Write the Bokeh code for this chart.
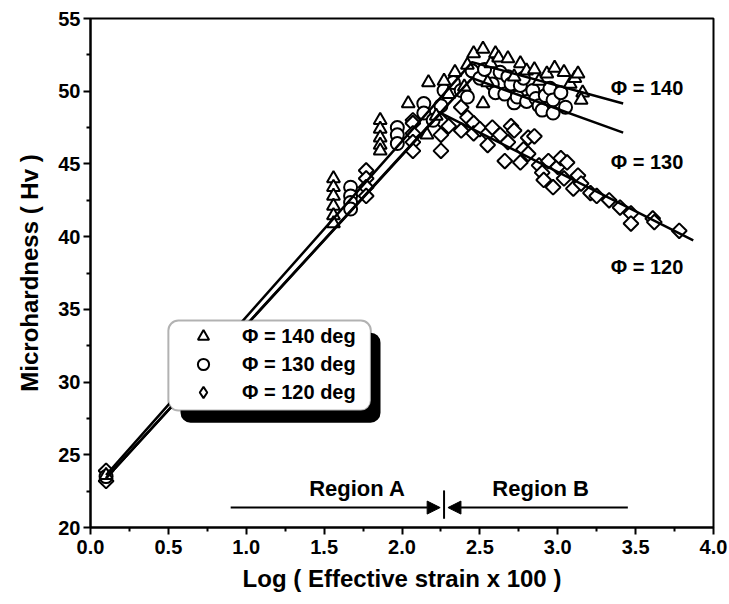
from bokeh.plotting import figure
from bokeh.models import (Legend, LegendItem, BoxAnnotation, Label, Arrow, NormalHead,
                          Range1d, FixedTicker, NumeralTickFormatter, CDSView, IndexFilter,
                          ColumnDataSource)
from bokeh.embed import file_html
from bokeh.resources import INLINE
import numpy as np

# ---------------- data ----------------
x_ticks = [0.0, 0.5, 1.0, 1.5, 2.0, 2.5, 3.0, 3.5, 4.0]
x_minor = [0.25, 0.75, 1.25, 1.75, 2.25, 2.75, 3.25, 3.75]
y_ticks = [20, 25, 30, 35, 40, 45, 50, 55]
y_minor = [22.5, 27.5, 32.5, 37.5, 42.5, 47.5, 52.5]

# Phi = 140 deg (triangles)
x140 = [0.10, 1.56, 1.56, 1.56, 1.56, 1.56, 1.56, 1.86, 1.86, 1.86, 1.86, 1.86,
        2.04, 2.16, 2.17, 2.22, 2.27, 2.30, 2.34, 2.40, 2.42, 2.46, 2.52, 2.52,
        2.55, 2.57, 2.60, 2.62, 2.68, 2.72, 2.76, 2.80, 2.85, 2.88, 2.93, 2.98,
        3.04, 3.08, 3.11, 3.13, 3.16, 3.15]
y140 = [23.6, 44.0, 43.4, 42.8, 42.1, 41.45, 40.9, 48.0, 47.4, 46.8, 46.3, 45.9,
        49.15, 47.0, 50.6, 48.3, 50.7, 49.8, 51.3, 50.3, 51.8, 52.6, 52.9, 49.15,
        50.6, 51.9, 52.6, 52.3, 52.25, 51.0, 51.9, 51.4, 51.5, 50.7, 51.2, 51.6,
        51.3, 50.5, 50.9, 51.2, 49.9, 49.4]

# Phi = 130 deg (circles)
x130 = [0.10, 1.67, 1.67, 1.67, 1.67, 1.97, 1.97, 1.97, 2.14, 2.14, 2.20,
        2.25, 2.27, 2.33, 2.38, 2.42, 2.45, 2.50, 2.53, 2.58, 2.60, 2.63, 2.66,
        2.68, 2.70, 2.72, 2.74, 2.76, 2.78, 2.80, 2.84, 2.86, 2.88, 2.90, 2.92,
        2.95, 2.97, 2.97, 3.02, 3.05]
y130 = [23.5, 43.4, 42.8, 42.35, 41.9, 47.5, 47.0, 46.4, 49.15, 48.5, 48.0,
        49.0, 50.05, 50.6, 50.05, 49.6, 51.4, 50.9, 51.5, 50.5, 49.9, 51.3, 49.8,
        51.0, 50.5, 49.2, 49.6, 50.4, 50.9, 49.3, 50.05, 49.5, 49.0, 48.7, 49.7,
        50.2, 49.4, 48.5, 49.9, 48.9]

# Phi = 120 deg (diamonds)
x120 = [0.10, 0.10, 1.77, 1.77, 1.77, 1.77, 2.07, 2.07, 2.07, 2.07, 2.07,
        2.25, 2.25, 2.25, 2.30, 2.38, 2.38, 2.42, 2.46, 2.46, 2.50, 2.55, 2.55,
        2.58, 2.63, 2.66, 2.68, 2.70, 2.72, 2.76, 2.78, 2.81, 2.81, 2.85, 2.88,
        2.90, 2.91, 2.94, 2.97, 3.00, 3.02, 3.04, 3.06, 3.10, 3.13, 3.15, 3.21,
        3.25, 3.33, 3.40, 3.47, 3.47, 3.61, 3.62, 3.78]
y120 = [23.9, 23.2, 44.55, 44.0, 43.4, 42.8, 48.0, 47.8, 47.1, 46.5, 45.9,
        48.0, 47.0, 45.9, 47.6, 48.9, 47.3, 48.2, 47.8, 47.1, 47.4, 47.1, 46.3,
        47.5, 47.0, 45.2, 46.5, 47.6, 47.3, 45.1, 46.0, 46.8, 45.7, 46.9, 44.9,
        44.4, 43.9, 45.2, 43.4, 44.8, 45.4, 44.0, 45.1, 43.3, 44.2, 43.65, 43.0,
        42.8, 42.5, 42.0, 41.6, 40.9, 41.25, 41.0, 40.4]

# bilinear fit lines
fit140_x = [0.10, 2.45, 3.42]
fit140_y = [23.6, 52.0, 49.15]
fit130_x = [0.10, 2.45, 3.42]
fit130_y = [23.4, 50.9, 47.15]
fit120_x = [0.10, 2.25, 3.87]
fit120_y = [23.4, 48.5, 39.75]

series_labels = ["\u03a6 = 140 deg", "\u03a6 = 130 deg", "\u03a6 = 120 deg"]
line_labels = ["\u03a6 = 140", "\u03a6 = 130", "\u03a6 = 120"]
boundary = 2.27

FONT = "Liberation Sans"

p = figure(width=729, height=604, output_backend="svg", toolbar_location=None,
           x_range=Range1d(0, 4), y_range=Range1d(20, 55),
           min_border_left=90, min_border_right=16, min_border_top=18, min_border_bottom=77,
           background_fill_color="white", border_fill_color="white")

p.xgrid.grid_line_color = None
p.ygrid.grid_line_color = None
p.outline_line_color = "black"
p.outline_line_width = 2

p.xaxis.ticker = FixedTicker(ticks=x_ticks, minor_ticks=x_minor)
p.yaxis.ticker = FixedTicker(ticks=y_ticks, minor_ticks=y_minor)
p.xaxis.formatter = NumeralTickFormatter(format="0.0")
p.xaxis.axis_label = "Log ( Effective strain x 100 )"
p.yaxis.axis_label = "Microhardness ( Hv )"
for ax in (p.xaxis, p.yaxis):
    ax.axis_line_width = 2
    ax.axis_line_color = "black"
    ax.major_tick_line_width = 2
    ax.minor_tick_line_width = 2
    ax.major_tick_in = 0
    ax.major_tick_out = 7
    ax.minor_tick_in = 0
    ax.minor_tick_out = 4
    ax.major_label_text_font = FONT
    ax.major_label_text_font_style = "bold"
    ax.major_label_text_font_size = "20px"
    ax.major_label_text_color = "black"
    ax.axis_label_text_font = FONT
    ax.axis_label_text_font_style = "bold"
    ax.axis_label_text_font_size = "24px"
    ax.axis_label_text_color = "black"
p.xaxis.major_label_standoff = 5
p.yaxis.major_label_standoff = 3
p.xaxis.axis_label_standoff = 8
p.yaxis.axis_label_standoff = 12

src120 = ColumnDataSource(data=dict(x=x120, y=y120))

# key renderer: draws only the first diamond point (hidden below the real marker);
# it supplies the diamond symbol for the legend
r120_key = p.scatter("x", "y", source=src120, view=CDSView(filter=IndexFilter(indices=[0])),
                     marker="diamond", size=14,
                     fill_color="white", line_color="black", line_width=2)
r120 = p.scatter("x", "y", source=src120, marker="square", angle=np.pi / 4, size=10.5,
                 fill_color="white", line_color="black", line_width=2)
r130 = p.scatter(x130, y130, marker="circle", size=13,
                 fill_color="white", line_color="black", line_width=2)
r140 = p.scatter(x140, y140, marker="triangle", size=13,
                 fill_color="white", line_color="black", line_width=2)

for fx, fy in ((fit140_x, fit140_y), (fit130_x, fit130_y), (fit120_x, fit120_y)):
    p.line(fx, fy, line_color="black", line_width=2.5)

# line labels
for txt, yy in zip(line_labels, [50.25, 45.1, 37.9]):
    p.add_layout(Label(x=3.34, y=yy, text=txt, text_font=FONT, text_font_style="bold",
                       text_font_size="20px", text_baseline="middle", text_color="black"))

# Region annotations
p.add_layout(Arrow(x_start=0.90, y_start=21.37, x_end=boundary - 0.025, y_end=21.37,
                   line_width=2, end=NormalHead(size=13, fill_color="black", line_color="black")))
p.add_layout(Arrow(x_start=3.45, y_start=21.37, x_end=boundary + 0.025, y_end=21.37,
                   line_width=2, end=NormalHead(size=13, fill_color="black", line_color="black")))
p.add_layout(Arrow(x_start=boundary, y_start=20.6, x_end=boundary, y_end=22.55,
                   line_width=2, end=None))
p.add_layout(Label(x=1.714, y=22.7, text="Region A", text_font=FONT, text_font_style="bold",
                   text_font_size="22px", text_align="center", text_baseline="middle",
                   text_color="black"))
p.add_layout(Label(x=2.89, y=22.7, text="Region B", text_font=FONT, text_font_style="bold",
                   text_font_size="22px", text_align="center", text_baseline="middle",
                   text_color="black"))

# legend box with shadow
p.add_layout(BoxAnnotation(left=0.578, right=1.862, top=33.4, bottom=27.2,
                           fill_color="black", fill_alpha=1, line_alpha=0, border_radius=10))
p.add_layout(BoxAnnotation(left=0.50, right=1.80, top=34.23, bottom=28.04,
                           fill_color="white", fill_alpha=1, line_color="black", line_width=2,
                           border_radius=10))

legend = Legend(items=[LegendItem(label=series_labels[0], renderers=[r140]),
                       LegendItem(label=series_labels[1], renderers=[r130]),
                       LegendItem(label=series_labels[2], renderers=[r120_key])],
                location=(96, 121), orientation="vertical", padding=0, margin=0, spacing=0,
                glyph_height=28, glyph_width=34, label_standoff=22, label_height=28,
                label_text_font=FONT, label_text_font_style="bold", label_text_font_size="20px",
                label_text_color="black",
                background_fill_alpha=0, border_line_alpha=0)
p.add_layout(legend)

open("out.html", "w").write(file_html(p, INLINE))
